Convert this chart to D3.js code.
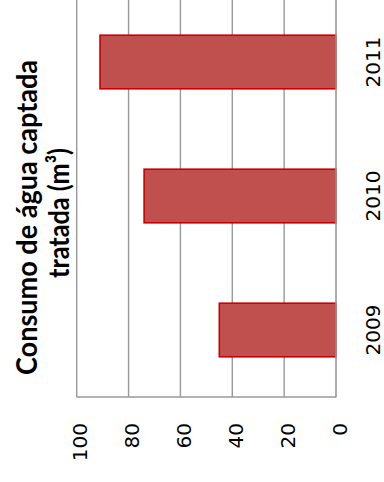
<!DOCTYPE html>
<html>
<head>
<meta charset="utf-8">
<script src="https://cdn.jsdelivr.net/npm/d3@7"></script>
<style>
  html, body { margin: 0; padding: 0; background: #fff; }
  svg { display: block; }
</style>
</head>
<body>
<svg id="chart" width="384" height="482"></svg>
<script>
// Treated water consumption by year (m³)
const years = ["2011", "2010", "2009"];
const consumo = [91, 74, 45];
const valueTicks = [0, 20, 40, 60, 80, 100];
const titleLines = ["Consumo de água captada", "tratada (m³)"];

const svg = d3.select("#chart");
svg.append("rect").attr("width", 384).attr("height", 482).attr("fill", "#fff");

// Value axis runs right-to-left, categories stacked top-to-bottom
const x = d3.scaleLinear().domain([0, 100]).range([336, 76.7]);
const y = d3.scaleBand().domain(years).range([-5, 397]).paddingInner(0.6).paddingOuter(0.3);

const gridColor = "#989898";

// gridlines
svg.append("g").selectAll("line")
  .data(valueTicks.filter(d => d > 0))
  .join("line")
  .attr("x1", d => x(d)).attr("x2", d => x(d))
  .attr("y1", -5).attr("y2", 397)
  .attr("stroke", gridColor).attr("stroke-width", 1.4);

// bars
const data = years.map((yr, i) => ({ yr, v: consumo[i] }));
svg.append("g").selectAll("rect")
  .data(data)
  .join("rect")
  .attr("x", d => x(d.v))
  .attr("y", d => y(d.yr))
  .attr("width", d => x(0) - x(d.v))
  .attr("height", y.bandwidth())
  .attr("fill", "#C0504D")
  .attr("stroke", "#C80000")
  .attr("stroke-width", 1.6);

// axis lines
svg.append("line")
  .attr("x1", x(0)).attr("x2", x(0)).attr("y1", -5).attr("y2", 397.5)
  .attr("stroke", gridColor).attr("stroke-width", 1.6);
svg.append("line")
  .attr("x1", x(100)).attr("x2", x(0)).attr("y1", 397).attr("y2", 397)
  .attr("stroke", gridColor).attr("stroke-width", 1.6);

// value tick labels (rotated)
const valueAxis = d3.axisBottom(x).tickValues(valueTicks).tickSize(0).tickFormat(d3.format("d"));
const gx = svg.append("g").attr("transform", "translate(0,423)").call(valueAxis);
gx.select(".domain").remove();
gx.selectAll("text")
  .attr("transform", "rotate(-90)")
  .attr("x", 0).attr("y", 10).attr("dy", 0)
  .attr("text-anchor", "end")
  .attr("font-family", "DejaVu Sans")
  .attr("font-size", 20)
  .attr("fill", "#000");

// category labels (rotated)
const catAxis = d3.axisRight(y).tickSize(0);
const gy = svg.append("g").attr("transform", "translate(380,0)").call(catAxis);
gy.select(".domain").remove();
gy.selectAll("text")
  .attr("transform", "rotate(-90)")
  .attr("x", 0).attr("y", 0).attr("dy", 0)
  .attr("text-anchor", "middle")
  .attr("font-family", "DejaVu Sans")
  .attr("font-size", 20)
  .attr("fill", "#000");

// title, two rotated lines
const titleSpecs = [
  { text: titleLines[0], bx: 36.5, cy: 217.5, len: 315 },
  { text: titleLines[1], bx: 68.5, cy: 213, len: 130 }
];
svg.append("g").selectAll("text")
  .data(titleSpecs)
  .join("text")
  .attr("transform", d => `translate(${d.bx},${d.cy}) rotate(-90)`)
  .attr("text-anchor", "middle")
  .attr("font-family", "Lato, 'Open Sans', sans-serif")
  .attr("font-weight", "bold")
  .attr("font-size", 29)
  .attr("textLength", d => d.len)
  .attr("lengthAdjust", "spacingAndGlyphs")
  .attr("fill", "#000")
  .text(d => d.text);
</script>
</body>
</html>
